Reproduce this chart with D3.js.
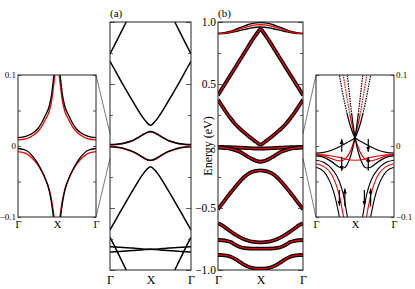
<!DOCTYPE html>
<html><head><meta charset="utf-8">
<script src="https://cdn.jsdelivr.net/npm/d3@7"></script>
<style>
body{margin:0;background:#fff}
svg{display:block}
text{font-family:"Liberation Serif","Times New Roman",serif;fill:#000}
</style></head><body>
<div id="chart"></div>
<script>
// k along Γ -> X (half path), X -> Γ is the mirror image
const kHalf = [0, 0.05, 0.1, 0.15, 0.2, 0.25, 0.3, 0.35, 0.4, 0.45, 0.5];
const kLabels = ["Γ", "X", "Γ"];
const mainTicks = [1.0, 0.5, -0.5, -1.0];
const insetTicks = [0.1, 0, -0.1];

// panel (a) bands (eV)
const a1 = [0.742, 0.806, 0.87, 0.935, 1.0, 1.065, 1.13, 1.19, 1.25, 1.3, 1.32];
const a2 = [0.683, 0.625, 0.565, 0.507, 0.45, 0.395, 0.34, 0.285, 0.235, 0.193, 0.167];
const a3 = [0.012, 0.013, 0.016, 0.021, 0.028, 0.038, 0.052, 0.07, 0.09, 0.108, 0.117];
const a4 = [-0.004, -0.006, -0.01, -0.016, -0.025, -0.036, -0.05, -0.068, -0.088, -0.107, -0.115];
const a5 = [-0.677, -0.62, -0.562, -0.505, -0.448, -0.392, -0.337, -0.283, -0.233, -0.192, -0.167];
const a6 = [-0.736, -0.8, -0.866, -0.933, -1.0, -1.066, -1.13, -1.19, -1.25, -1.3, -1.32];
const a7 = [-0.812, -0.814, -0.816, -0.818, -0.82, -0.822, -0.825, -0.827, -0.83, -0.832, -0.833];
const a8 = [-0.855, -0.853, -0.851, -0.849, -0.847, -0.844, -0.842, -0.84, -0.837, -0.835, -0.833];

// panel (b) bands (eV)
const b1Top = [0.909, 0.911, 0.917, 0.926, 0.939, 0.952, 0.965, 0.978, 0.987, 0.993, 0.995];
const b1Red = [0.907, 0.908, 0.913, 0.921, 0.931, 0.942, 0.953, 0.963, 0.971, 0.976, 0.978];
const b1Low = [0.905, 0.906, 0.909, 0.915, 0.922, 0.93, 0.938, 0.946, 0.953, 0.958, 0.96];
const b2 = [0.41, 0.465, 0.52, 0.575, 0.63, 0.685, 0.74, 0.795, 0.85, 0.9, 0.94];
const b3 = [0.373, 0.32, 0.268, 0.222, 0.18, 0.145, 0.114, 0.085, 0.058, 0.032, 0.012];
const b0 = [-0.008, -0.008, -0.009, -0.01, -0.011, -0.013, -0.015, -0.017, -0.019, -0.02, -0.02];
const b4 = [-0.012, -0.014, -0.018, -0.024, -0.033, -0.045, -0.063, -0.085, -0.105, -0.12, -0.127];
const b5 = [-0.51, -0.465, -0.42, -0.375, -0.333, -0.292, -0.256, -0.228, -0.21, -0.2, -0.196];
const b6 = [-0.624, -0.64, -0.665, -0.69, -0.713, -0.733, -0.75, -0.762, -0.771, -0.776, -0.778];
const b7 = [-0.758, -0.76, -0.765, -0.775, -0.795, -0.812, -0.822, -0.826, -0.828, -0.828, -0.828];
const b8 = [-0.879, -0.88, -0.884, -0.893, -0.91, -0.932, -0.955, -0.972, -0.983, -0.989, -0.99];

// left inset (zoom of (a))
const lK = [0, 0.1, 0.2, 0.25, 0.3, 0.35, 0.4, 0.43, 0.46, 0.49];
const lUpBlack = [0.0117, 0.0135, 0.019, 0.024, 0.032, 0.043, 0.056, 0.072, 0.1, 0.135];
const lUpRed = [0.0085, 0.010, 0.0155, 0.020, 0.027, 0.037, 0.049, 0.063, 0.088, 0.12];
const lLowBlack = [-0.0035, -0.006, -0.016, -0.024, -0.034, -0.046, -0.063, -0.08, -0.105, -0.135];
const lLowRed = [-0.008, -0.0105, -0.019, -0.026, -0.035, -0.046, -0.061, -0.076, -0.098, -0.13];

// right inset (zoom of (b)), full Γ-X-Γ, each also drawn mirrored
const rKUp = [0, 0.1, 0.2, 0.3, 0.4, 0.5, 0.55, 0.6, 0.65, 0.7, 0.73];
const rUp = [-0.010, -0.009, -0.006, -0.001, 0.005, 0.012, 0.025, 0.045, 0.07, 0.1, 0.12];
const rKDown = [0.37, 0.4, 0.45, 0.5, 0.55, 0.6, 0.65, 0.7, 0.8, 0.9, 1.0];
const rDown = [0.12, 0.1, 0.052, 0.012, -0.012, -0.026, -0.031, -0.03, -0.022, -0.016, -0.014];
const rKRed = [0.33, 0.35, 0.4, 0.45, 0.5, 0.55, 0.6, 0.65, 0.7, 0.8, 0.9, 1.0];
const rRed = [0.115, 0.1, 0.066, 0.036, 0.012, -0.005, -0.015, -0.02, -0.021, -0.018, -0.014, -0.012];
const rKSmile = [0, 0.1, 0.2, 0.3, 0.4, 0.5];
const rSmile = [-0.012, -0.0125, -0.014, -0.016, -0.019, -0.02];
const rKLowA = [0, 0.1, 0.2, 0.3, 0.35, 0.4, 0.42];
const rLowA = [-0.020, -0.023, -0.032, -0.050, -0.068, -0.098, -0.11];
const rKLowR = [0, 0.1, 0.2, 0.25, 0.3, 0.35, 0.37];
const rLowR = [-0.025, -0.029, -0.040, -0.052, -0.070, -0.098, -0.11];
const rKLowB = [0, 0.1, 0.15, 0.2, 0.25, 0.3, 0.32];
const rLowB = [-0.030, -0.036, -0.044, -0.056, -0.074, -0.10, -0.11];
// spin arrows: k, E from, E to
const rArrows = [[0.33, -0.008, 0.010], [0.33, -0.015, -0.035], [0.67, 0.010, -0.008], [0.67, -0.035, -0.015],
                 [0.30, -0.062, -0.084], [0.37, -0.085, -0.060], [0.62, -0.062, -0.084], [0.70, -0.085, -0.060]];

const svg = d3.select("#chart").append("svg").attr("width", 415).attr("height", 289);
const defs = svg.append("defs");

const xA = d3.scaleLinear().domain([0, 1]).range([110, 191]);
const xB = d3.scaleLinear().domain([0, 1]).range([218, 303]);
const yMain = d3.scaleLinear().domain([-1, 1]).range([270, 22]);
const xL = d3.scaleLinear().domain([0, 1]).range([18, 96]);
const xR = d3.scaleLinear().domain([0, 1]).range([316, 394]);
const yIn = d3.scaleLinear().domain([-0.1, 0.1]).range([217, 75]);

// mirror a Γ->X band onto X->Γ
function halfPath(vals) {
  const fwd = kHalf.map((k, i) => [k, vals[i]]);
  const back = kHalf.map((k, i) => [1 - k, vals[i]]).reverse().slice(1);
  return fwd.concat(back);
}
function pts(ks, es) { return ks.map((k, i) => [k, es[i]]); }
function mirr(ks, es) { return ks.map((k, i) => [1 - k, es[i]]).reverse(); }

function clip(id, xs, ys) {
  defs.append("clipPath").attr("id", id).append("rect")
    .attr("x", xs.range()[0]).attr("y", ys.range()[1])
    .attr("width", xs.range()[1] - xs.range()[0]).attr("height", ys.range()[0] - ys.range()[1]);
}
clip("cA", xA, yMain); clip("cB", xB, yMain); clip("cL", xL, yIn); clip("cR", xR, yIn);

const lineOf = (xs, ys) => d3.line().x(d => xs(d[0])).y(d => ys(d[1])).curve(d3.curveMonotoneX);

// connector lines
const conn = svg.append("g").attr("stroke", "#555").attr("stroke-width", 0.8);
conn.append("line").attr("x1", xL(1)).attr("y1", yIn(0.1)).attr("x2", xA(0)).attr("y2", yMain(0.1));
conn.append("line").attr("x1", xL(1)).attr("y1", yIn(-0.1)).attr("x2", xA(0)).attr("y2", yMain(-0.1));
conn.append("line").attr("x1", xB(1)).attr("y1", yMain(0.1)).attr("x2", xR(0)).attr("y2", yIn(0.1));
conn.append("line").attr("x1", xB(1)).attr("y1", yMain(-0.1)).attr("x2", xR(0)).attr("y2", yIn(-0.1));

// frames, inner ticks, k labels
function frame(xs, ys, major, minor, len) {
  const g = svg.append("g");
  g.append("g").attr("transform", `translate(${xs.range()[0]},0)`)
    .call(d3.axisRight(ys).tickValues(major).tickSize(len).tickFormat(""));
  g.append("g").attr("transform", `translate(${xs.range()[1]},0)`)
    .call(d3.axisLeft(ys).tickValues(major).tickSize(len).tickFormat(""));
  if (minor) {
    g.append("g").attr("transform", `translate(${xs.range()[0]},0)`)
      .call(d3.axisRight(ys).tickValues(minor).tickSize(3).tickFormat(""));
    g.append("g").attr("transform", `translate(${xs.range()[1]},0)`)
      .call(d3.axisLeft(ys).tickValues(minor).tickSize(3).tickFormat(""));
  }
  g.selectAll(".domain").remove();
  g.selectAll(".tick line").attr("stroke", "#333").attr("stroke-width", 0.8);
  g.append("rect").attr("x", xs.range()[0]).attr("y", ys.range()[1])
    .attr("width", xs.range()[1] - xs.range()[0]).attr("height", ys.range()[0] - ys.range()[1])
    .attr("fill", "none").attr("stroke", "#222").attr("stroke-width", 1);
  return g;
}

function kAxis(xs, ys, size, dy) {
  const ax = svg.append("g").attr("transform", `translate(0,${ys.range()[0]})`)
    .call(d3.axisBottom(xs).tickValues([0, 0.5, 1]).tickSize(0).tickPadding(dy)
      .tickFormat((d, i) => kLabels[i]));
  ax.select(".domain").remove();
  ax.selectAll("text").attr("font-size", size).attr("font-family", "Liberation Serif");
}

// ---------- panel (a)
const gA = svg.append("g").attr("clip-path", "url(#cA)").attr("fill", "none");
[a3, a4].forEach(v => {
  gA.append("path").attr("d", lineOf(xA, yMain)(halfPath(v.map(e => e - 0.004))))
    .attr("stroke", "#e00").attr("stroke-width", 1.2);
});
[a1, a2, a3, a4, a5, a6, a7, a8].forEach(v => {
  gA.append("path").attr("d", lineOf(xA, yMain)(halfPath(v)))
    .attr("stroke", "#000").attr("stroke-width", 1.5);
});
frame(xA, yMain, [1, 0.5, 0, -0.5, -1], [0.75, 0.25, -0.25, -0.75], 5);
kAxis(xA, yMain, 12, 5);
svg.append("text").attr("x", 110).attr("y", 17).attr("font-size", 11).text("(a)");

// ---------- panel (b)
const gB = svg.append("g").attr("clip-path", "url(#cB)").attr("fill", "none");
[b1Top, b1Low].forEach(v => {
  gB.append("path").attr("d", lineOf(xB, yMain)(halfPath(v))).attr("stroke", "#000").attr("stroke-width", 1.4);
});
gB.append("path").attr("d", lineOf(xB, yMain)(halfPath(b1Red))).attr("stroke", "#e00").attr("stroke-width", 1.3);
[b2, b3, b0, b4, b5, b6, b7, b8].forEach(v => {
  const d = lineOf(xB, yMain)(halfPath(v));
  gB.append("path").attr("d", d).attr("stroke", "#000").attr("stroke-width", 3.8);
  gB.append("path").attr("d", d).attr("stroke", "#e00").attr("stroke-width", 1.3);
});
frame(xB, yMain, [1, 0.5, 0, -0.5, -1], [0.75, 0.25, -0.25, -0.75], 5);
kAxis(xB, yMain, 12, 5);
const yAx = svg.append("g").attr("transform", `translate(${xB(0)},0)`)
  .call(d3.axisLeft(yMain).tickValues(mainTicks).tickSize(0).tickPadding(2).tickFormat(d3.format(".1f")));
yAx.select(".domain").remove();
yAx.selectAll("text").attr("font-size", 11.5).attr("font-family", "Liberation Serif");
svg.append("text").attr("transform", `translate(212,${yMain(0)}) rotate(-90)`)
  .attr("text-anchor", "middle").attr("font-size", 12).text("Energy (eV)");
svg.append("text").attr("x", 218).attr("y", 17).attr("font-size", 11).text("(b)");

// ---------- left inset
const gL = svg.append("g").attr("clip-path", "url(#cL)").attr("fill", "none");
[[lUpRed, "#e00"], [lLowRed, "#e00"], [lUpBlack, "#000"], [lLowBlack, "#000"]].forEach(([v, c]) => {
  [pts(lK, v), mirr(lK, v)].forEach(p => {
    gL.append("path").attr("d", lineOf(xL, yIn)(p)).attr("stroke", c).attr("stroke-width", 1.3);
  });
});
frame(xL, yIn, [0.1, 0.05, 0, -0.05, -0.1], null, 3);
kAxis(xL, yIn, 10.5, 4);
const lAx = svg.append("g").attr("transform", `translate(${xL(0)},0)`)
  .call(d3.axisLeft(yIn).tickValues(insetTicks).tickSize(0).tickPadding(2).tickFormat(d3.format("")));
lAx.select(".domain").remove();
lAx.selectAll("text").attr("font-size", 9).attr("font-family", "Liberation Serif");

// ---------- right inset
const cut = 0.045; // dotted above this energy
defs.append("clipPath").attr("id", "cRlo").append("rect")
  .attr("x", xR(0)).attr("y", yIn(cut)).attr("width", xR(1) - xR(0)).attr("height", yIn(-0.1) - yIn(cut));
defs.append("clipPath").attr("id", "cRhi").append("rect")
  .attr("x", xR(0)).attr("y", yIn(0.1)).attr("width", xR(1) - xR(0)).attr("height", yIn(cut) - yIn(0.1));
const gRlo = svg.append("g").attr("clip-path", "url(#cRlo)").attr("fill", "none");
const gRhi = svg.append("g").attr("clip-path", "url(#cRhi)").attr("fill", "none");
const gR = svg.append("g").attr("clip-path", "url(#cR)").attr("fill", "none");

[[rKSmile, rSmile, "#e00"], [rKLowR, rLowR, "#e00"], [rKLowA, rLowA, "#000"], [rKLowB, rLowB, "#000"]].forEach(([ks, es, c]) => {
  [pts(ks, es), mirr(ks, es)].forEach(p => {
    gR.append("path").attr("d", lineOf(xR, yIn)(p)).attr("stroke", c).attr("stroke-width", 1.1);
  });
});
[[rKRed, rRed, "#e00"], [rKUp, rUp, "#000"], [rKDown, rDown, "#000"]].forEach(([ks, es, c]) => {
  [pts(ks, es), mirr(ks, es)].forEach(p => {
    const d = lineOf(xR, yIn)(p);
    gRlo.append("path").attr("d", d).attr("stroke", c).attr("stroke-width", 1.2);
    gRhi.append("path").attr("d", d).attr("stroke", c).attr("stroke-width", 1.2).attr("stroke-dasharray", "1.5,1");
  });
});

defs.append("marker").attr("id", "arr").attr("viewBox", "0 0 10 10").attr("refX", 10).attr("refY", 5)
  .attr("markerWidth", 5).attr("markerHeight", 5).attr("markerUnits", "userSpaceOnUse").attr("orient", "auto")
  .append("path").attr("d", "M0,1 L10,5 L0,9 z").attr("fill", "#000");
svg.append("g").selectAll("line").data(rArrows).join("line")
  .attr("x1", d => xR(d[0])).attr("x2", d => xR(d[0]))
  .attr("y1", d => yIn(d[1])).attr("y2", d => yIn(d[2]))
  .attr("stroke", "#000").attr("stroke-width", 1.2).attr("marker-end", "url(#arr)");

frame(xR, yIn, [0.1, 0.05, 0, -0.05, -0.1], null, 3);
kAxis(xR, yIn, 10.5, 4);
const rAx = svg.append("g").attr("transform", `translate(${xR(1)},0)`)
  .call(d3.axisRight(yIn).tickValues(insetTicks).tickSize(0).tickPadding(2).tickFormat(d3.format("")));
rAx.select(".domain").remove();
rAx.selectAll("text").attr("font-size", 9).attr("font-family", "Liberation Serif");
</script>
</body></html>
